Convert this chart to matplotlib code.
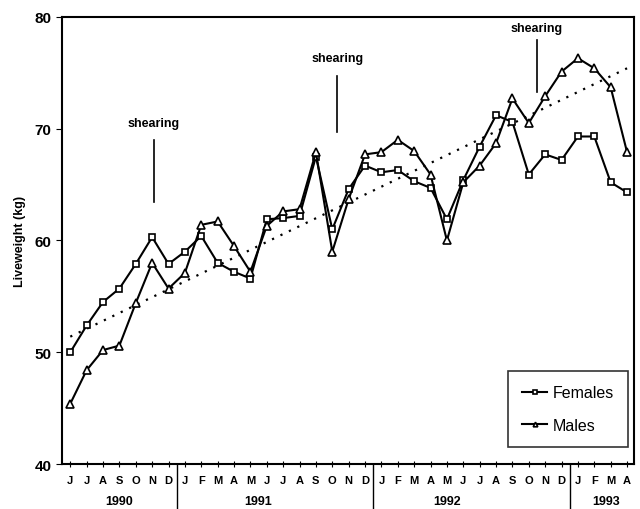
import matplotlib.pyplot as plt
import matplotlib.transforms as mtransforms
import numpy as np

plt.rcParams['font.family'] = ['Liberation Sans', 'DejaVu Sans']

# months Jun 1990 .. Apr 1993
months = list('JJASOND') + list('JFMAMJJASOND') * 2 + list('JFMA')
years = ['1990', '1991', '1992', '1993']
year_pos = [3, 11.5, 23, 32.7]
year_breaks = [6.5, 18.5, 30.5]

females = [50.0, 52.4, 54.5, 55.7, 57.9, 60.3, 57.9,
           59.0, 60.4, 58.0, 57.2, 56.6, 61.9, 62.0, 62.2, 67.5, 61.0, 64.6, 66.7,
           66.1, 66.3, 65.3, 64.7, 61.9, 65.4, 68.4, 71.2, 70.6, 65.9, 67.7, 67.2,
           69.3, 69.3, 65.2, 64.3]
males = [45.4, 48.4, 50.2, 50.6, 54.4, 58.0, 55.7,
         57.1, 61.4, 61.7, 59.5, 57.2, 61.3, 62.6, 62.8, 67.9, 59.0, 63.7, 67.7,
         67.9, 69.0, 68.0, 65.9, 60.0, 65.2, 66.7, 68.7, 72.7, 70.5, 72.9, 75.1,
         76.3, 75.4, 73.7, 67.9]
trend_x = [0, 34]
trend_y = [51.4, 75.4]

# shearing marks: x position, label y, line bottom, line top
shear_x = [5.1, 16.3, 28.5]
shear_text_y = [70.5, 76.3, 79.0]
shear_lo = [63.4, 69.7, 73.3]
shear_hi = [69.0, 74.7, 77.9]

x = np.arange(len(months))

fig = plt.figure(figsize=(6.4, 5.1), dpi=100)
ax = fig.add_axes([0.097, 0.088, 0.893, 0.877])

ax.plot(trend_x, trend_y, color='black', linestyle=(0, (1, 3.2)), linewidth=1.6)
ax.plot(x, females, color='black', linewidth=1.5, marker='s', markersize=4.5,
        markerfacecolor='white', markeredgewidth=1.2, label='Females')
ax.plot(x, males, color='black', linewidth=1.5, marker='^', markersize=5.5,
        markerfacecolor='white', markeredgewidth=1.2, label='Males')

for sx, ty, lo, hi in zip(shear_x, shear_text_y, shear_lo, shear_hi):
    ax.plot([sx, sx], [lo, hi], color='black', linewidth=1.2)
    ax.text(sx, ty, 'shearing', ha='center', va='center', fontsize=9, fontweight='bold')

ax.set_xlim(-0.5, 34.4)
ax.set_ylim(40, 80)
ax.set_yticks([40, 50, 60, 70, 80])
ax.set_xticks(x)
ax.set_xticklabels(months, fontsize=8, fontweight='bold')
for lab in ax.get_yticklabels():
    lab.set_fontweight('bold')
    lab.set_fontsize(11)
ax.tick_params(axis='x', direction='inout', length=4, pad=6)
ax.tick_params(axis='y', direction='out', length=4)
ax.set_ylabel('Liveweight (kg)', fontsize=9, fontweight='bold', labelpad=6)

for s in ax.spines.values():
    s.set_linewidth(1.5)

trans = mtransforms.blended_transform_factory(ax.transData, ax.transAxes)
for b in year_breaks:
    ax.plot([b, b], [0, -0.1], color='black', linewidth=1.0, transform=trans, clip_on=False)
for yp, yl in zip(year_pos, years):
    ax.text(yp, -0.083, yl, ha='center', va='center', fontsize=9, fontweight='bold',
            transform=trans)

leg = ax.legend(loc='lower right', bbox_to_anchor=(0.99, 0.038), borderaxespad=0,
                fontsize=11.5, frameon=True, fancybox=False, edgecolor='black',
                handlelength=1.6, handletextpad=0.3, labelspacing=1.1, borderpad=0.9,
                markerscale=0.6)
leg.get_frame().set_linewidth(1.2)

plt.savefig('out.png', dpi=100)
